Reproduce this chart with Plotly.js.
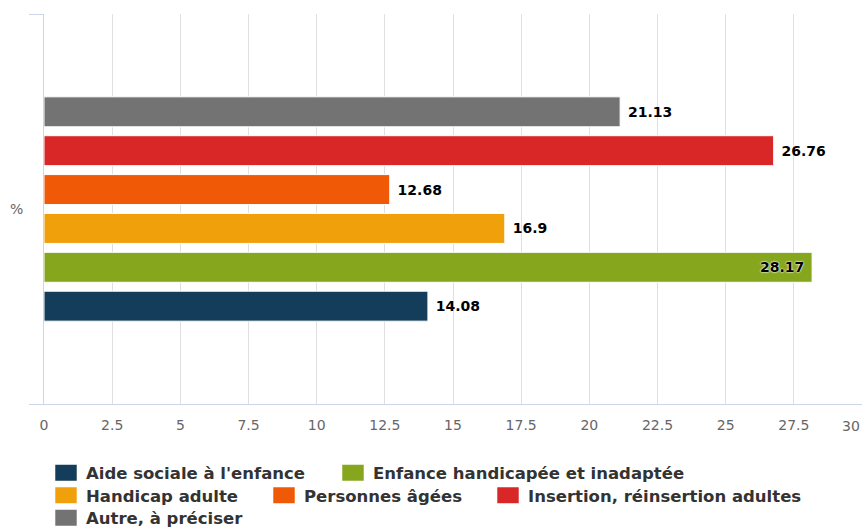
<!DOCTYPE html>
<html>
<head>
<meta charset="utf-8">
<script src="https://cdn.plot.ly/plotly-3.0.1.min.js"></script>
<style>
html,body{margin:0;padding:0;background:#fff;}
#chart{width:862px;height:527px;}
.legendpoints path{transform:translate(20px,0px) scale(1.95,1.45);}
</style>
</head>
<body>
<div id="chart"></div>
<script>
const category = ['%'];
const seriesNames = [
  "Aide sociale à l'enfance",
  "Enfance handicapée et inadaptée",
  "Handicap adulte",
  "Personnes âgées",
  "Insertion, réinsertion adultes",
  "Autre, à préciser"
];
const seriesValues = [14.08, 28.17, 16.9, 12.68, 26.76, 21.13];
const seriesColors = ['#133d5a', '#86a61e', '#f0a00a', '#f05a06', '#d92727', '#737373'];
const xTicks = [0, 2.5, 5, 7.5, 10, 12.5, 15, 17.5, 20, 22.5, 25, 27.5, 30];
const xTickText = ['0', '2.5', '5', '7.5', '10', '12.5', '15', '17.5', '20', '22.5', '25', '27.5', '30'];

// legend placement (container px) — one legend per entry to mimic the reference wrapping
const legendIds = ['legend', 'legend2', 'legend3', 'legend4', 'legend5', 'legend6'];
const legendX = [46, 333, 46, 264, 488, 46];
const legendY = [473, 473, 495.5, 495.5, 495.5, 518];

const W = 862, H = 527;
const NB = '\u00a0';
const traces = seriesNames.map((name, i) => {
  const inside = seriesValues[i] > 27.5;
  return {
    type: 'bar',
    orientation: 'h',
    name: name,
    legend: legendIds[i],
    y: category,
    x: [seriesValues[i]],
    text: [inside ? String(seriesValues[i]) + NB : NB + String(seriesValues[i])],
    textposition: inside ? 'inside' : 'outside',
    insidetextanchor: 'end',
    constraintext: 'none',
    cliponaxis: false,
    textfont: {
      family: 'DejaVu Sans', size: 14, color: '#000', weight: 'bold',
      shadow: inside ? '0px 0px 2px #fff, 0px 0px 2px #fff' : 'none'
    },
    marker: { color: seriesColors[i], line: { color: '#ffffff', width: 1 } },
    hoverinfo: 'name+x'
  };
});

const layout = {
  width: W,
  height: H,
  margin: { l: 44, r: 0, t: 14, b: 123, pad: 0 },
  paper_bgcolor: '#ffffff',
  plot_bgcolor: '#ffffff',
  barmode: 'group',
  bargap: 0.402,
  bargroupgap: 0.229,
  showlegend: true,
  xaxis: {
    range: [0, 30],
    tickvals: xTicks,
    ticktext: xTickText.map((t, i) => i === xTickText.length - 1 ? '' : t),
    showgrid: true,
    gridcolor: '#e0e0e0',
    gridwidth: 1,
    zeroline: false,
    showline: true,
    linecolor: '#ccd6eb',
    linewidth: 1,
    ticks: '',
    ticklabelstandoff: 8,
    ticklabeloverflow: 'allow',
    tickfont: { family: 'DejaVu Sans', size: 14, color: '#666666' },
    automargin: false,
    fixedrange: true
  },
  yaxis: {
    type: 'category',
    range: [-0.5, 0.5],
    showgrid: false,
    zeroline: false,
    showline: true,
    linecolor: '#ccd6eb',
    linewidth: 1,
    ticks: 'outside',
    tickson: 'boundaries',
    ticklen: 14,
    tickcolor: '#ccd6eb',
    tickwidth: 1,
    ticklabelstandoff: 17,
    tickfont: { family: 'DejaVu Sans', size: 14, color: '#666666' },
    automargin: false,
    fixedrange: true
  },
  annotations: [{
    xref: 'x', yref: 'paper',
    x: xTicks[xTicks.length - 1], y: 0,
    text: xTickText[xTickText.length - 1],
    showarrow: false,
    xanchor: 'right', yanchor: 'top',
    yshift: -12,
    font: { family: 'DejaVu Sans', size: 14, color: '#666666' }
  }]
};

legendIds.forEach((id, i) => {
  layout[id] = {
    orientation: 'h',
    xref: 'container', yref: 'container',
    x: legendX[i] / W, y: 1 - legendY[i] / H,
    xanchor: 'left', yanchor: 'middle',
    font: { family: 'DejaVu Sans', size: 16.5, color: '#333333', weight: 'bold' },
    bgcolor: 'rgba(0,0,0,0)',
    borderwidth: 0
  };
});

Plotly.newPlot('chart', traces, layout, { displayModeBar: false, staticPlot: true });
</script>
</body>
</html>
